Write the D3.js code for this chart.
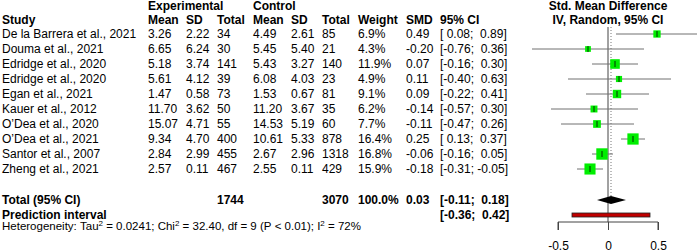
<!DOCTYPE html>
<html lang="en">
<meta charset="utf-8">
<head>
<script src="https://d3js.org/d3.v7.min.js"></script>
<style>
  body { margin: 0; background: #fff; }
  text { font-family: "Liberation Sans", Arial, sans-serif; fill: #000; }
</style>
</head>
<body>
<script>
var studies = ["De la Barrera et al., 2021", "Douma et al., 2021", "Edridge et al., 2020", "Edridge et al., 2020",
  "Egan et al., 2021", "Kauer et al., 2012", "O\u2019Dea et al., 2020", "O\u2019Dea et al., 2021",
  "Santor et al., 2007", "Zheng et al., 2021"];
var expMean = [3.26, 6.65, 5.18, 5.61, 1.47, 11.70, 15.07, 9.34, 2.84, 2.57];
var expSD = [2.22, 6.24, 3.74, 4.12, 0.58, 3.62, 4.71, 4.70, 2.99, 0.11];
var expN = [34, 30, 141, 39, 73, 50, 55, 400, 455, 467];
var ctlMean = [4.49, 5.45, 5.43, 6.08, 1.53, 11.20, 14.53, 10.61, 2.67, 2.55];
var ctlSD = [2.61, 5.40, 3.27, 4.03, 0.67, 3.67, 5.19, 5.33, 2.96, 0.11];
var ctlN = [85, 21, 140, 23, 81, 35, 60, 878, 1318, 429];
var weight = [6.9, 4.3, 11.9, 4.9, 9.1, 6.2, 7.7, 16.4, 16.8, 15.9];
var smd = [0.49, -0.20, 0.07, 0.11, 0.09, -0.14, -0.11, 0.25, -0.06, -0.18];
var lower = [0.08, -0.76, -0.16, -0.40, -0.22, -0.57, -0.47, 0.13, -0.16, -0.31];
var upper = [0.89, 0.36, 0.30, 0.63, 0.41, 0.30, 0.26, 0.37, 0.05, -0.05];
var total = {expN: 1744, ctlN: 3070, weight: 100.0, smd: 0.03, lower: -0.11, upper: 0.18};
var predInterval = [-0.36, 0.42];
var xTicks = [-0.5, 0, 0.5];

var W = 698, H = 251;
var NB = "\u00a0";
var f2 = function(v) { return d3.format(".2f")(v).replace("\u2212", "-"); };
var f1 = d3.format(".1f");
function pad(v) { return (v < 0 ? "" : NB) + f2(v); }
function ci(lo, hi) { return "[" + pad(lo) + ";" + NB + pad(hi) + "]"; }

var svg = d3.select("body").append("svg")
  .attr("width", W).attr("height", H);

// column x positions
var col = {study: 2, eMean: 148, eSD: 186, eN: 217, cMean: 253, cSD: 291, cN: 322, w: 358, smd: 406, ci: 440};
var rowY0 = 38, rowH = 15;
function rowY(i) { return rowY0 + i * rowH; }

// header
var hdr = svg.append("g").style("font-size", "12px").style("font-weight", "bold");
hdr.append("text").attr("x", col.eMean).attr("y", 10).text("Experimental");
hdr.append("text").attr("x", col.cMean).attr("y", 10).text("Control");
var hdrCols = [["Study", col.study], ["Mean", col.eMean], ["SD", col.eSD], ["Total", col.eN],
  ["Mean", col.cMean], ["SD", col.cSD], ["Total", col.cN], ["Weight", col.w], ["SMD", col.smd], ["95% CI", col.ci]];
hdr.selectAll(".h").data(hdrCols).enter().append("text")
  .attr("x", function(d) { return d[1]; }).attr("y", 24).text(function(d) { return d[0]; });
hdr.append("text").attr("x", 608).attr("y", 10).attr("text-anchor", "middle").text("Std. Mean Difference");
hdr.append("text").attr("x", 608).attr("y", 24).attr("text-anchor", "middle").text("IV, Random, 95% CI");

// study rows
var rows = svg.append("g").style("font-size", "12px");
studies.forEach(function(s, i) {
  var cells = [[s, col.study], [f2(expMean[i]), col.eMean], [f2(expSD[i]), col.eSD], [expN[i], col.eN],
    [f2(ctlMean[i]), col.cMean], [f2(ctlSD[i]), col.cSD], [ctlN[i], col.cN],
    [f1(weight[i]) + "%", col.w], [f2(smd[i]), col.smd], [ci(lower[i], upper[i]), col.ci]];
  cells.forEach(function(c) {
    rows.append("text").attr("x", c[1]).attr("y", rowY(i)).text(c[0]);
  });
});

var yTot = rowY(studies.length - 1) + 31, yPred = yTot + 15, yHet = yPred + 11;
var tot = svg.append("g").style("font-size", "12px").style("font-weight", "bold");
tot.append("text").attr("x", col.study).attr("y", yTot).text("Total (95% CI)");
tot.append("text").attr("x", col.eN).attr("y", yTot).text(total.expN);
tot.append("text").attr("x", col.cN).attr("y", yTot).text(total.ctlN);
tot.append("text").attr("x", col.w).attr("y", yTot).text(f1(total.weight) + "%");
tot.append("text").attr("x", col.smd).attr("y", yTot).text(f2(total.smd));
tot.append("text").attr("x", col.ci).attr("y", yTot).text(ci(total.lower, total.upper));
tot.append("text").attr("x", col.study).attr("y", yPred).text("Prediction interval");
tot.append("text").attr("x", col.ci).attr("y", yPred).text(ci(predInterval[0], predInterval[1]));

var het = svg.append("text").attr("x", 2).attr("y", yHet).style("font-size", "11.5px");
var hetParts = [["Heterogeneity: Tau", 0], ["2", 1], [" = 0.0241; Chi", 0], ["2", 1],
  [" = 32.40, df = 9 (P < 0.01); I", 0], ["2", 1], [" = 72%", 0]];
hetParts.forEach(function(p, i) {
  var t = het.append("tspan").text(p[0].replace(/ /g, NB));
  if (p[1]) t.attr("dy", -4).style("font-size", "8px");
  else if (i > 0) t.attr("dy", 4);
});

// forest plot
var x = d3.scaleLinear().domain([-0.5, 0.5]).range([558, 658]);
var sq = d3.scaleSqrt().domain([0, d3.max(weight)]).range([0, 11.4]);
var plot = svg.append("g");

var axisY = 222;
plot.append("line").attr("x1", x(0)).attr("x2", x(0)).attr("y1", 27).attr("y2", axisY)
  .attr("stroke", "#444").attr("stroke-width", 1);
plot.append("line").attr("x1", x(total.smd)).attr("x2", x(total.smd)).attr("y1", 27).attr("y2", yTot - 4)
  .attr("stroke", "#777").attr("stroke-width", 1).attr("stroke-dasharray", "1,2");

var g = plot.selectAll(".st").data(studies).enter().append("g");
g.append("line")
  .attr("x1", function(d, i) { return x(lower[i]); })
  .attr("x2", function(d, i) { return Math.min(x(upper[i]), W); })
  .attr("y1", function(d, i) { return rowY(i) - 4; })
  .attr("y2", function(d, i) { return rowY(i) - 4; })
  .attr("stroke", "#707070").attr("stroke-width", 1);
g.append("rect")
  .attr("x", function(d, i) { return x(smd[i]) - sq(weight[i]) / 2; })
  .attr("y", function(d, i) { return rowY(i) - 4 - sq(weight[i]) / 2; })
  .attr("width", function(d, i) { return sq(weight[i]); })
  .attr("height", function(d, i) { return sq(weight[i]); })
  .attr("fill", "#00ee00");
g.append("line")
  .attr("x1", function(d, i) { return x(smd[i]); })
  .attr("x2", function(d, i) { return x(smd[i]); })
  .attr("y1", function(d, i) { return rowY(i) - 7; })
  .attr("y2", function(d, i) { return rowY(i) - 1; })
  .attr("stroke", "#000").attr("stroke-width", 0.8);

// summary diamond
var yd = yTot - 4;
plot.append("path")
  .attr("d", "M" + x(total.lower) + "," + yd + "L" + x(total.smd) + "," + (yd - 4) +
    "L" + x(total.upper) + "," + yd + "L" + x(total.smd) + "," + (yd + 4) + "Z")
  .attr("fill", "#000");

// prediction interval bar
var yp = yPred - 4;
plot.append("rect")
  .attr("x", x(predInterval[0])).attr("y", yp - 2)
  .attr("width", x(predInterval[1]) - x(predInterval[0])).attr("height", 4)
  .attr("fill", "#c00000").attr("stroke", "#222").attr("stroke-width", 0.8);

// axis
var ax = svg.append("g").attr("transform", "translate(0," + axisY + ")")
  .call(d3.axisBottom(x).tickValues(xTicks).tickSize(8).tickFormat(function(d) { return d === 0 ? "0" : String(d); }));
ax.select(".domain").attr("stroke", "#444").attr("d", "M" + x(-0.5) + ",8V0H" + x(0.5) + "V8");
ax.selectAll(".tick line").attr("stroke", "#444");
ax.selectAll(".tick text").attr("y", 19.5).style("font-size", "12px")
  .style("font-family", "Liberation Sans, Arial, sans-serif").attr("fill", "#000");
</script>
</body>
</html>
